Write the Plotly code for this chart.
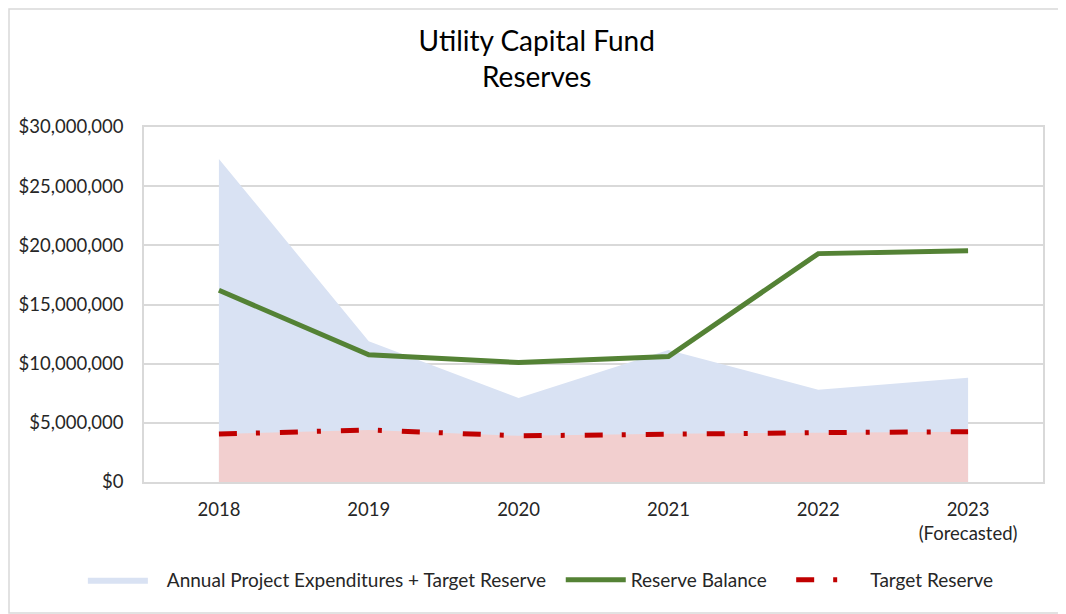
import plotly.graph_objects as go

years = ["2018", "2019", "2020", "2021", "2022", "2023<br>(Forecasted)"]
expend_plus_target = [27300000, 11900000, 7100000, 11150000, 7800000, 8800000]
reserve_balance = [16200000, 10750000, 10100000, 10600000, 19300000, 19550000]
target_reserve = [4050000, 4400000, 3900000, 4080000, 4170000, 4250000]

FONT = "Lato"
TXT = "#262626"
NB = "\u00a0"
# page is rendered with an 8px body margin, so margins are offset by 8px
ML, MT, PW, PH = 136, 119, 899, 355
W, H = 1066, 614
fig = go.Figure()

fig.add_trace(go.Scatter(
    x=years, y=expend_plus_target,
    name=NB * 3 + "Annual Project Expenditures + Target Reserve" + NB * 2,
    mode="lines", line=dict(width=0, color="#D9E2F3"), fill="tozeroy",
    fillcolor="#D9E2F3", hoverinfo="skip"))
fig.add_trace(go.Scatter(
    x=years, y=target_reserve, name="target fill", showlegend=False,
    mode="lines", line=dict(width=0, color="#F2CFCF"), fill="tozeroy",
    fillcolor="#F2CFCF", hoverinfo="skip"))
fig.add_trace(go.Scatter(
    x=years, y=reserve_balance, name="Reserve Balance" + NB * 4, mode="lines",
    line=dict(width=5, color="#548235")))
fig.add_trace(go.Scatter(
    x=years, y=target_reserve, name=NB * 2 + "Target Reserve", mode="lines",
    line=dict(width=5, color="#C00000", dash="18px,19px,4px,20px")))

fig.update_layout(
    width=W, height=H,
    paper_bgcolor="white", plot_bgcolor="white",
    font=dict(family=FONT, size=18.5, color=TXT),
    title=dict(text="Utility Capital Fund<br>Reserves", x=0.496, xanchor="center",
               y=0.93, yanchor="middle", font=dict(family=FONT, size=28, color="#000000")),
    margin=dict(l=ML, r=W - ML - PW, t=MT, b=H - MT - PH),
    showlegend=True,
    legend=dict(orientation="h", x=-0.068, xanchor="left",
                y=-(572 - MT - PH) / PH, yanchor="middle",
                font=dict(family=FONT, size=19, color=TXT), itemwidth=60,
                traceorder="normal"),
    shapes=[dict(type="rect", xref="paper", yref="paper",
                 x0=-(ML - 1) / PW, x1=(1056 - ML) / PW,
                 y0=-(605 - MT - PH) / PH, y1=1 + (MT - 1) / PH,
                 line=dict(color="#D9D9D9", width=1.5))],
)
fig.update_xaxes(type="category", range=[-0.5, 5.5], showgrid=False,
                 showline=True, mirror=True, linecolor="#D9D9D9", linewidth=1.5,
                 ticks="", ticklabelstandoff=10, tickfont=dict(size=18.5, color=TXT))
fig.update_yaxes(range=[0, 30000000], dtick=5000000, tickprefix="$", tickformat=",.0f",
                 showgrid=True, gridcolor="#D9D9D9", gridwidth=1.5,
                 showline=True, mirror=True, linecolor="#D9D9D9", linewidth=1.5,
                 zeroline=False, ticks="", ticklabelstandoff=15,
                 tickfont=dict(size=18.5, color=TXT))

fig.write_html("out.html")
